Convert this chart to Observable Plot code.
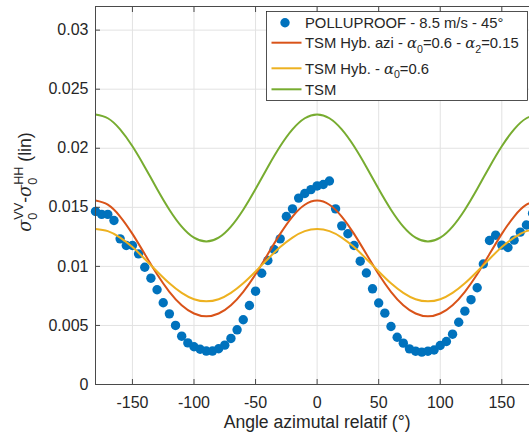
<!DOCTYPE html>
<html><head><meta charset="utf-8">
<script src="https://cdn.jsdelivr.net/npm/d3@7"></script>
<script src="https://cdn.jsdelivr.net/npm/@observablehq/plot@0.6"></script>
<style>body{margin:0;background:#fff;}</style>
</head><body><div id="chart"></div>
<script>
// Measured points (POLLUPROOF - 8.5 m/s - 45°)
const angles = [-180,-175,-170,-165,-160,-155,-150,-145,-140,-135,-130,-125,-120,-115,-110,-105,-100,-95,-90,-85,-80,-75,-70,-65,-60,-55,-50,-45,-40,-35,-30,-25,-20,-15,-10,-5,
  0,5,10,15,20,25,30,35,40,45,50,55,60,65,70,75,80,85,90,95,100,105,110,115,120,125,130,135,140,145,150,155,160,165,170,175];
const polluproof = [0.01465,0.01440,0.01440,0.01388,0.01233,0.01177,0.01177,0.01106,0.00993,0.00900,0.00802,0.00692,0.00598,0.00500,0.00409,0.00352,0.00320,0.00298,0.00283,0.00283,0.00303,0.00333,0.00390,0.00463,0.00548,0.00669,0.00790,0.00942,0.01050,0.01143,0.01233,0.01422,0.01487,0.01578,0.01617,0.01650,
  0.01681,0.01693,0.01723,0.01487,0.01343,0.01276,0.01177,0.01044,0.00944,0.00810,0.00690,0.00604,0.00491,0.00400,0.00350,0.00302,0.00282,0.00274,0.00282,0.00292,0.00330,0.00364,0.00426,0.00527,0.00621,0.00718,0.00819,0.01020,0.01219,0.01264,0.01180,0.01160,0.01222,0.01290,0.01350,0.01450];

// Model curves, read every 10°
const curveAngles = [-180,-170,-160,-150,-140,-130,-120,-110,-100,-90,-80,-70,-60,-50,-40,-30,-20,-10,0,10,20,30,40,50,60,70,80,90,100,110,120,130,140,150,160,170,180];
const tsmHybAzi = [0.01557,0.01522,0.01422,0.01275,0.01104,0.00933,0.00785,0.00671,0.00601,0.00577,0.00601,0.00671,0.00785,0.00933,0.01104,0.01275,0.01422,0.01522,0.01557,0.01522,0.01422,0.01275,0.01104,0.00933,0.00785,0.00671,0.00601,0.00577,0.00601,0.00671,0.00785,0.00933,0.01104,0.01275,0.01422,0.01522,0.01557];
const tsmHyb = [0.01316,0.01298,0.01244,0.01163,0.01063,0.00957,0.00857,0.00776,0.00722,0.00704,0.00722,0.00776,0.00857,0.00957,0.01063,0.01163,0.01244,0.01298,0.01316,0.01298,0.01244,0.01163,0.01063,0.00957,0.00857,0.00776,0.00722,0.00704,0.00722,0.00776,0.00857,0.00957,0.01063,0.01163,0.01244,0.01298,0.01316];
const tsm = [0.02286,0.02254,0.02160,0.02017,0.01842,0.01655,0.01480,0.01337,0.01243,0.01211,0.01243,0.01337,0.01480,0.01655,0.01842,0.02017,0.02160,0.02254,0.02286,0.02254,0.02160,0.02017,0.01842,0.01655,0.01480,0.01337,0.01243,0.01211,0.01243,0.01337,0.01480,0.01655,0.01842,0.02017,0.02160,0.02254,0.02286];

const xTicks = [-150,-100,-50,0,50,100,150];
const yTicks = [0,0.005,0.01,0.015,0.02,0.025,0.03];
const xLabel = "Angle azimutal relatif (°)";
const colors = {points:"#0072BD", hybAzi:"#D95319", hyb:"#EDB120", tsm:"#77AC30"};

const points = angles.map((a,i)=>({angle:a, value:polluproof[i]}));
const mk = vals => curveAngles.map((a,i)=>({angle:a, value:vals[i]}));

const axisColor = "#4a4a4a";
const gridColor = "#e2e2e2";
const font = "'Liberation Sans', Arial, Helvetica, sans-serif";

const chart = Plot.plot({
  width: 529, height: 439,
  marginLeft: 95, marginRight: 0, marginTop: 6, marginBottom: 55,
  style: {fontFamily: font, fontSize: "16px", color: "#262626", background: "white"},
  x: {domain: [-180, 172.5], label: null},
  y: {domain: [0, 0.032], label: null},
  marks: [
    Plot.gridX(xTicks, {stroke: gridColor, strokeOpacity: 1, strokeWidth: 1}),
    Plot.gridY(yTicks, {stroke: gridColor, strokeOpacity: 1, strokeWidth: 1}),
    Plot.dot(points, {x: "angle", y: "value", r: 4.7, fill: colors.points, stroke: null}),
    Plot.line(mk(tsmHybAzi), {x: "angle", y: "value", stroke: colors.hybAzi, strokeWidth: 2, curve: "natural", clip: true}),
    Plot.line(mk(tsmHyb), {x: "angle", y: "value", stroke: colors.hyb, strokeWidth: 2, curve: "natural", clip: true}),
    Plot.line(mk(tsm), {x: "angle", y: "value", stroke: colors.tsm, strokeWidth: 2, curve: "natural", clip: true}),
    Plot.ruleY([0], {stroke: axisColor, strokeWidth: 1}),
    Plot.ruleY([0.032], {stroke: axisColor, strokeWidth: 1}),
    Plot.ruleX([-180], {stroke: axisColor, strokeWidth: 1}),
    Plot.axisX(xTicks, {tickSize: 0, tickPadding: 12, tickFormat: d => String(d), label: null, fontSize: 16}),
    Plot.axisX(xTicks, {anchor: "bottom", tickSize: -5, tickFormat: () => "", label: null, stroke: axisColor}),
    Plot.axisX(xTicks, {anchor: "top", tickSize: -5, tickFormat: () => "", label: null, stroke: axisColor}),
    Plot.axisY(yTicks, {tickSize: 0, tickPadding: 7, tickFormat: d => String(d), label: null, fontSize: 16}),
    Plot.axisY(yTicks, {anchor: "left", tickSize: -5, tickFormat: () => "", label: null, stroke: axisColor}),
    Plot.text([{x: 0, t: xLabel}], {x: "x", text: "t", frameAnchor: "bottom", dy: 38, lineAnchor: "middle", fontSize: 17.6, fill: "#262626"})
  ]
});
document.getElementById("chart").appendChild(chart);

// rich text helper (sub/superscripts)
function richText(parent, segs, size, anchor) {
  const t = parent.append("text").attr("font-size", size).attr("fill", "#262626")
    .attr("font-family", font).attr("text-anchor", anchor);
  let shift = 0;
  for (const s of segs) {
    const target = s.sub ? size * 0.32 : s.sup ? -size * 0.45 : 0;
    const sp = t.append("tspan").text(s.t).attr("dy", target - shift);
    shift = target;
    if (s.sub || s.sup) sp.attr("font-size", size * 0.72);
    if (s.italic) sp.attr("font-style", "italic").attr("font-family", "'DejaVu Serif', serif");
    if (s.dx) sp.attr("dx", s.dx);
  }
  return t;
}

const svg = d3.select(chart);

// Y label
const yl = svg.append("g").attr("transform", "translate(31,182) rotate(-90)");
richText(yl, [
  {t: "σ", italic: true}, {t: "0", sub: true}, {t: "VV", sup: true, dx: -7},
  {t: "-"}, {t: "σ", italic: true}, {t: "0", sub: true}, {t: "HH", sup: true, dx: -7},
  {t: " (lin)"}
], 17.6, "middle");

// Legend
const lg = svg.append("g");
lg.append("rect").attr("x", 266.5).attr("y", 11.5).attr("width", 261).attr("height", 89)
  .attr("fill", "white").attr("stroke", "#262626").attr("stroke-width", 0.8);
const items = [
  {type: "dot", color: colors.points, y: 22.7, segs: [{t: "POLLUPROOF - 8.5 m/s - 45°"}]},
  {type: "line", color: colors.hybAzi, y: 42.7, segs: [{t: "TSM Hyb. azi - "}, {t: "α", italic: true}, {t: "0", sub: true}, {t: "=0.6 - "}, {t: "α", italic: true}, {t: "2", sub: true}, {t: "=0.15"}]},
  {type: "line", color: colors.hyb, y: 68.3, segs: [{t: "TSM Hyb. - "}, {t: "α", italic: true}, {t: "0", sub: true}, {t: "=0.6"}]},
  {type: "line", color: colors.tsm, y: 89.3, segs: [{t: "TSM"}]}
];
for (const it of items) {
  if (it.type === "dot") lg.append("circle").attr("cx", 285).attr("cy", it.y).attr("r", 4.7).attr("fill", it.color);
  else lg.append("line").attr("x1", 271.5).attr("x2", 301.5).attr("y1", it.y).attr("y2", it.y).attr("stroke", it.color).attr("stroke-width", 2);
  richText(lg, it.segs, 14.8, "start").attr("x", 305).attr("y", it.y + 5.3);
}
</script></body></html>
